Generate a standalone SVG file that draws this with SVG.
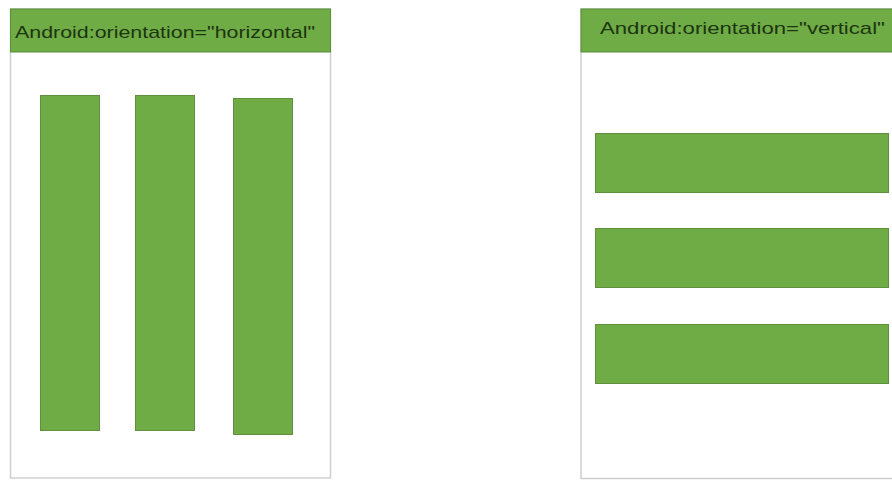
<svg xmlns="http://www.w3.org/2000/svg" width="892" height="480" viewBox="0 0 892 480">
<style>
.panel{fill:#fff;stroke:#cfcfcf;stroke-width:1.5}
.hdr{fill:#6fac46;stroke:#5b8e3a;stroke-width:1}
.bar{fill:#6fac46;stroke:#5f8f3f;stroke-width:1}
.t{font-family:"Liberation Sans",Arial,sans-serif;font-size:17px;fill:#1d3510}
</style>
<rect width="892" height="480" fill="#fff"/>
<g id="horizontal-panel">
<rect class="panel" x="10.5" y="9" width="320" height="469"/>
<rect class="hdr" x="10.5" y="9" width="320" height="43"/>
<text class="t" x="15" y="38" textLength="300" lengthAdjust="spacingAndGlyphs">Android:orientation="horizontal"</text>
<rect class="bar" x="40.5" y="95.5" width="59" height="335"/>
<rect class="bar" x="135.5" y="95.5" width="59" height="335"/>
<rect class="bar" x="233.5" y="98.5" width="59" height="336"/>
</g>
<g id="vertical-panel">
<rect class="panel" x="581" y="9" width="330" height="469.5"/>
<rect class="hdr" x="581" y="9" width="330" height="43"/>
<text class="t" x="600" y="34" textLength="285" lengthAdjust="spacingAndGlyphs">Android:orientation="vertical"</text>
<rect class="bar" x="595.5" y="133.5" width="293" height="59"/>
<rect class="bar" x="595.5" y="228.5" width="293" height="59"/>
<rect class="bar" x="595.5" y="324.5" width="293" height="59"/>
</g>
<g id="connectors"/>
</svg>
